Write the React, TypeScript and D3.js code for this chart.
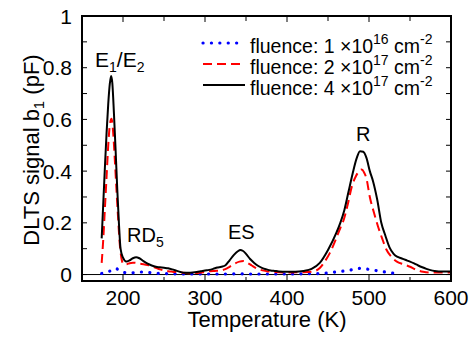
import React from "react";
import * as d3 from "d3";

const blackT = [174,176,178,180,182,184,185.5,187,189,191,193,195,197,200,204,208,212,216,220,225,230,235,240,245,250,255,260,265,270,275,280,285,290,295,300,305,310,315,320,325,330,335,340,343,346,350,355,360,365,370,375,380,385,390,400,410,420,430,440,450,460,465,470,475,480,485,489,493,497,501,505,510,515,520,525,530,535,540,545,550,555,560,565,570,575,580,590,600];
const blackV = [0.14,0.28,0.42,0.55,0.66,0.74,0.768,0.74,0.62,0.48,0.33,0.2,0.1,0.065,0.05,0.055,0.063,0.067,0.063,0.052,0.042,0.035,0.03,0.028,0.026,0.024,0.02,0.015,0.01,0.007,0.007,0.008,0.01,0.013,0.016,0.018,0.022,0.027,0.03,0.036,0.055,0.075,0.09,0.095,0.092,0.08,0.06,0.045,0.033,0.025,0.02,0.016,0.014,0.012,0.011,0.011,0.014,0.022,0.045,0.095,0.16,0.2,0.25,0.32,0.39,0.45,0.477,0.475,0.45,0.4,0.36,0.29,0.2,0.15,0.105,0.08,0.068,0.062,0.056,0.05,0.043,0.035,0.028,0.022,0.017,0.014,0.012,0.012];

const redT = [174,176,178,180,182,184,186,188,190,192,194,196,198,200,204,208,212,216,220,225,230,235,240,245,250,255,260,270,280,290,300,306,312,318,324,330,336,342,347,352,357,363,370,375,385,400,420,432,440,446,452,460,465,469,474,479,484,488,491,494,497,501,506,511,516,521,527,534,542,550,558,566,575,590,600];
const redV = [0.045,0.14,0.26,0.38,0.5,0.58,0.603,0.55,0.445,0.33,0.22,0.12,0.065,0.043,0.04,0.044,0.046,0.045,0.042,0.04,0.037,0.032,0.026,0.02,0.016,0.013,0.011,0.008,0.005,0.006,0.01,0.013,0.014,0.015,0.02,0.03,0.042,0.05,0.052,0.045,0.035,0.024,0.016,0.013,0.01,0.008,0.009,0.012,0.025,0.05,0.082,0.14,0.18,0.21,0.27,0.34,0.38,0.4,0.406,0.395,0.37,0.3,0.24,0.186,0.14,0.098,0.07,0.05,0.04,0.03,0.018,0.011,0.008,0.008,0.008];

const blueT = [174,180,185,190,195,200,210,220,230,240,260,280,300,320,340,360,380,400,420,440,460,475,489,500,515,525,535];
const blueV = [0.004,0.008,0.015,0.024,0.018,0.008,0.006,0.01,0.008,0.005,0.003,0.002,0.002,0.002,0.003,0.002,0.002,0.002,0.003,0.004,0.01,0.016,0.024,0.02,0.012,0.007,0.003];

const xMajor = [200, 300, 400, 500, 600];
const xMinor = [250, 350, 450, 550];
const yLabels = [0, 0.2, 0.4, 0.6, 0.8, 1];
const yTicks = [0, 0.1, 0.2, 0.3, 0.4, 0.5, 0.6, 0.7, 0.8, 0.9, 1];
const legendExp = ["16", "17", "17"];
const legendMant = ["1", "2", "4"];

const L = 82, R = 451, T = 16, B = 281;
const FONT = "'Liberation Sans', Arial, sans-serif";

export default function App() {
  const x = d3.scaleLinear().domain([150, 600]).range([L, R]);
  const y = d3.scaleLinear().domain([-0.025, 1]).range([B, T]);
  const line = d3.line<[number, number]>().x(d => x(d[0])).y(d => y(d[1])).curve(d3.curveMonotoneX);
  const zip = (a: number[], b: number[]) => a.map((t, i) => [t, b[i]] as [number, number]);

  const series = [
    { d: zip(blueT, blueV), color: "#0000ff", dash: "0.1 8.3", w: 3.2, cap: "round" as const },
    { d: zip(redT, redV), color: "#ff0000", dash: "9 5", w: 2, cap: "butt" as const },
    { d: zip(blackT, blackV), color: "#000000", dash: undefined, w: 2, cap: "butt" as const },
  ];

  return (
    <svg width={473} height={339} style={{ position: "absolute", left: 0, top: 0, background: "#fff" }} fontFamily={FONT}>
      <defs>
        <clipPath id="plot"><rect x={L} y={T} width={R - L} height={B - T} /></clipPath>
      </defs>
      <line x1={L} x2={R} y1={y(0)} y2={y(0)} stroke="#000" strokeWidth={1} />
      <g clipPath="url(#plot)">
        {series.map((s, i) => (
          <path key={i} d={line(s.d) || ""} fill="none" stroke={s.color} strokeWidth={s.w}
            strokeDasharray={s.dash} strokeLinecap={s.cap} strokeLinejoin="round" />
        ))}
      </g>
      <rect x={L} y={T} width={R - L} height={B - T} fill="none" stroke="#000" strokeWidth={2} />
      {xMajor.map(v => (
        <g key={"xM" + v}>
          <line x1={x(v)} x2={x(v)} y1={B} y2={B - 7} stroke="#000" strokeWidth={1} />
          <line x1={x(v)} x2={x(v)} y1={T} y2={T + 6} stroke="#000" strokeWidth={1} />
          <text x={x(v)} y={305} textAnchor="middle" fontSize={21}>{v}</text>
        </g>
      ))}
      {xMinor.map(v => (
        <g key={"xm" + v}>
          <line x1={x(v)} x2={x(v)} y1={B} y2={B - 4} stroke="#000" strokeWidth={1} />
          <line x1={x(v)} x2={x(v)} y1={T} y2={T + 5} stroke="#000" strokeWidth={1} />
        </g>
      ))}
      {yTicks.map(v => (
        <g key={"y" + v}>
          <line x1={L} x2={L + 5} y1={y(v)} y2={y(v)} stroke="#000" strokeWidth={1} />
          <line x1={R} x2={R - 5} y1={y(v)} y2={y(v)} stroke="#000" strokeWidth={1} />
        </g>
      ))}
      {yLabels.map(v => (
        <text key={"yl" + v} x={72} y={y(v) + 7.5} textAnchor="end" fontSize={21}>{v === 0 || v === 1 ? String(v) : v.toFixed(1)}</text>
      ))}
      <text x={267} y={327} textAnchor="middle" fontSize={22}>Temperature (K)</text>
      <text transform={`translate(39,150) rotate(-90)`} textAnchor="middle" fontSize={22}>
        DLTS signal b<tspan fontSize={15} dy={5}>1</tspan><tspan dy={-5}> (pF)</tspan>
      </text>
      <text x={95} y={67} fontSize={21}>E<tspan fontSize={14} dy={5}>1</tspan><tspan dy={-5}>/E</tspan><tspan fontSize={14} dy={5}>2</tspan></text>
      <text x={127} y={242} fontSize={20}>RD<tspan fontSize={14} dy={5}>5</tspan></text>
      <text x={228} y={239} fontSize={20}>ES</text>
      <text x={356} y={141} fontSize={20}>R</text>
      {series.map((s, i) => {
        const ly = 43 + i * 21;
        return (
          <g key={"lg" + i}>
            <line x1={203} x2={245} y1={ly} y2={ly} stroke={s.color} strokeWidth={s.w}
              strokeDasharray={s.dash} strokeLinecap={s.cap} />
            <text x={250} y={ly + 10} fontSize={19.5}>
              fluence: {legendMant[i]} ×10<tspan fontSize={14} dy={-9}>{legendExp[i]}</tspan>
              <tspan dy={9}> cm</tspan><tspan fontSize={14} dy={-9}>-2</tspan>
            </text>
          </g>
        );
      })}
    </svg>
  );
}
